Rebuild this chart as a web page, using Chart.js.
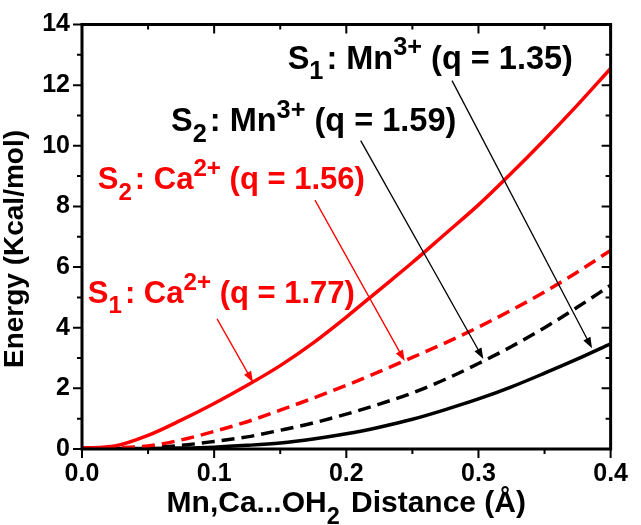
<!DOCTYPE html>
<html>
<head>
<meta charset="utf-8">
<script src="https://cdn.jsdelivr.net/npm/chart.js@4.4.1/dist/chart.umd.min.js"></script>
<style>
  html, body { margin: 0; padding: 0; background: #fff; }
  #energyChart { display: block; }
</style>
</head>
<body>
<canvas id="energyChart" width="641" height="525"></canvas>
<script>
// values
const distance = [0, 0.025, 0.05, 0.075, 0.1, 0.125, 0.15, 0.175, 0.2, 0.225, 0.25, 0.275, 0.3, 0.325, 0.35, 0.375, 0.4];
const energyS1Ca = [0.03, 0.1, 0.45, 0.95, 1.5, 2.1, 2.75, 3.5, 4.35, 5.25, 6.15, 7.1, 8.05, 9.1, 10.2, 11.35, 12.55];
const energyS2Ca = [0.03, 0.04, 0.1, 0.3, 0.58, 0.9, 1.28, 1.68, 2.1, 2.55, 3.02, 3.5, 4.02, 4.58, 5.18, 5.84, 6.55];
const energyS2Mn = [0.03, 0.03, 0.05, 0.12, 0.25, 0.4, 0.62, 0.86, 1.15, 1.48, 1.85, 2.3, 2.82, 3.38, 4.0, 4.68, 5.4];
const energyS1Mn = [0.02, 0.02, 0.02, 0.03, 0.06, 0.12, 0.2, 0.33, 0.5, 0.72, 0.98, 1.3, 1.65, 2.05, 2.5, 2.97, 3.47];

const xMajorTicks = [0, 0.1, 0.2, 0.3, 0.4];
const xMinorTicks = [0.05, 0.15, 0.25, 0.35];
const yMajorTicks = [0, 2, 4, 6, 8, 10, 12, 14];
const yMinorTicks = [1, 3, 5, 7, 9, 11, 13];

const FONT = "'Liberation Sans', Arial, Helvetica, sans-serif";
const RED = '#ff0000';
const BLACK = '#000000';

// callout text pieces: [text, 'sub' | 'sup']
const callouts = [
  { pieces: [['S'], ['1', 'sub'], [': Mn'], ['3+', 'sup'], [' (q = 1.35)']], color: BLACK, size: 32.5,
    at: [0.1556, 12.54], from: [0.28, 12.15], to: [0.3859, 3.32] },
  { pieces: [['S'], ['2', 'sub'], [': Mn'], ['3+', 'sup'], [' (q = 1.59)']], color: BLACK, size: 32.5,
    at: [0.0674, 10.48], from: [0.2109, 10.17], to: [0.3037, 2.97] },
  { pieces: [['S'], ['2', 'sub'], [': Ca'], ['2+', 'sup'], [' (q = 1.56)']], color: RED, size: 31,
    at: [0.0119, 8.56], from: [0.1763, 8.21], to: [0.2442, 2.9] },
  { pieces: [['S'], ['1', 'sub'], [': Ca'], ['2+', 'sup'], [' (q = 1.77)']], color: RED, size: 31,
    at: [0.0044, 4.83], from: [0.1022, 4.29], to: [0.1294, 2.2] }
];

function toPoints(values) {
  return distance.map((d, i) => ({ x: d, y: values[i] }));
}

// draws text with sub/superscripts
function drawRich(ctx, pieces, x, y, size, color, subDrop) {
  let cx = x;
  ctx.fillStyle = color;
  ctx.textAlign = 'left';
  ctx.textBaseline = 'alphabetic';
  pieces.forEach(([text, kind]) => {
    const small = kind === 'sub' || kind === 'sup';
    const s = small ? size * 0.78 : size;
    ctx.font = `bold ${s}px ${FONT}`;
    let dy = 0;
    if (kind === 'sub') dy = size * subDrop;
    if (kind === 'sup') dy = -size * 0.42;
    ctx.fillText(text, cx, y + dy);
    cx += ctx.measureText(text).width + (kind === 'sub' ? 3 : 0);
  });
  return cx;
}

function richWidth(ctx, pieces, size) {
  let w = 0;
  pieces.forEach(([text, kind]) => {
    const small = kind === 'sub' || kind === 'sup';
    ctx.font = `bold ${small ? size * 0.78 : size}px ${FONT}`;
    w += ctx.measureText(text).width + (kind === 'sub' ? 3 : 0);
  });
  return w;
}

function drawArrow(ctx, x1, y1, x2, y2, color) {
  const ang = Math.atan2(y2 - y1, x2 - x1);
  const len = 11, half = 4;
  ctx.strokeStyle = color;
  ctx.fillStyle = color;
  ctx.lineWidth = 1.3;
  ctx.beginPath();
  ctx.moveTo(x1, y1);
  ctx.lineTo(x2 - Math.cos(ang) * len * 0.8, y2 - Math.sin(ang) * len * 0.8);
  ctx.stroke();
  ctx.beginPath();
  ctx.moveTo(x2, y2);
  ctx.lineTo(x2 - Math.cos(ang) * len + Math.sin(ang) * half, y2 - Math.sin(ang) * len - Math.cos(ang) * half);
  ctx.lineTo(x2 - Math.cos(ang) * len - Math.sin(ang) * half, y2 - Math.sin(ang) * len + Math.cos(ang) * half);
  ctx.closePath();
  ctx.fill();
}

// frame, mirrored ticks, axis titles and callouts
const decorations = {
  id: 'decorations',
  afterDraw(chart) {
    const { ctx, chartArea: a, scales: { x, y } } = chart;
    ctx.save();

    ctx.strokeStyle = BLACK;
    ctx.lineWidth = 2;
    ctx.beginPath();
    const tick = (vals, len) => {
      vals.forEach(v => {
        const px = x.getPixelForValue(v);
        ctx.moveTo(px, a.bottom); ctx.lineTo(px, a.bottom + len);
        ctx.moveTo(px, a.top); ctx.lineTo(px, a.top + len);
      });
    };
    const ytick = (vals, len) => {
      vals.forEach(v => {
        const py = y.getPixelForValue(v);
        ctx.moveTo(a.left, py); ctx.lineTo(a.left - len, py);
        ctx.moveTo(a.right, py); ctx.lineTo(a.right - len, py);
      });
    };
    tick(xMajorTicks, 9); tick(xMinorTicks, 5);
    ytick(yMajorTicks, 9); ytick(yMinorTicks, 5);
    ctx.stroke();

    ctx.lineWidth = 3;
    ctx.strokeRect(a.left, a.top, a.right - a.left, a.bottom - a.top);

    // y title
    ctx.save();
    ctx.translate(23, 249);
    ctx.rotate(-Math.PI / 2);
    ctx.font = `bold 28px ${FONT}`;
    ctx.fillStyle = BLACK;
    ctx.textAlign = 'center';
    ctx.textBaseline = 'alphabetic';
    ctx.fillText('Energy (Kcal/mol)', 0, 0);
    ctx.restore();

    // x title
    const xTitle = [['Mn,Ca...OH'], ['2', 'sub'], [' Distance (\u00C5)']];
    const tw = richWidth(ctx, xTitle, 30);
    drawRich(ctx, xTitle, (a.left + a.right) / 2 - tw / 2, 512, 30, BLACK, 0.4);

    callouts.forEach(c => {
      drawRich(ctx, c.pieces, x.getPixelForValue(c.at[0]), y.getPixelForValue(c.at[1]), c.size, c.color, 0.33);
      drawArrow(ctx,
        x.getPixelForValue(c.from[0]), y.getPixelForValue(c.from[1]),
        x.getPixelForValue(c.to[0]), y.getPixelForValue(c.to[1]), c.color);
    });

    ctx.restore();
  }
};

const tickFont = { family: FONT, size: 25, weight: 'bold', lineHeight: 1 };

new Chart(document.getElementById('energyChart'), {
  type: 'line',
  data: {
    datasets: [
      { label: 'S1: Ca2+ (q = 1.77)', data: toPoints(energyS1Ca), borderColor: RED, borderWidth: 3.5 },
      { label: 'S2: Ca2+ (q = 1.56)', data: toPoints(energyS2Ca), borderColor: RED, borderWidth: 3.5, borderDash: [13, 7] },
      { label: 'S2: Mn3+ (q = 1.59)', data: toPoints(energyS2Mn), borderColor: BLACK, borderWidth: 3.5, borderDash: [13, 7] },
      { label: 'S1: Mn3+ (q = 1.35)', data: toPoints(energyS1Mn), borderColor: BLACK, borderWidth: 3.5 }
    ]
  },
  options: {
    responsive: false,
    animation: false,
    devicePixelRatio: 1,
    layout: { padding: { top: 13, right: 19, left: 0, bottom: 0 } },
    elements: {
      point: { radius: 0 },
      line: { cubicInterpolationMode: 'monotone', fill: false, borderCapStyle: 'butt' }
    },
    plugins: {
      legend: { display: false },
      tooltip: { enabled: false }
    },
    scales: {
      x: {
        type: 'linear',
        min: 0,
        max: 0.4,
        afterBuildTicks: s => { s.ticks = xMajorTicks.map(v => ({ value: v })); },
        afterFit: s => { s.height = 76; },
        ticks: { callback: v => v.toFixed(1), font: tickFont, color: BLACK, padding: 13, maxRotation: 0, autoSkip: false },
        grid: { display: false, drawTicks: false },
        border: { display: false }
      },
      y: {
        min: 0,
        max: 14,
        afterBuildTicks: s => { s.ticks = yMajorTicks.map(v => ({ value: v })); },
        afterFit: s => { s.width = 82; },
        ticks: { callback: v => String(v), font: tickFont, color: BLACK, padding: 12, autoSkip: false },
        grid: { display: false, drawTicks: false },
        border: { display: false }
      }
    }
  },
  plugins: [decorations]
});
</script>
</body>
</html>
